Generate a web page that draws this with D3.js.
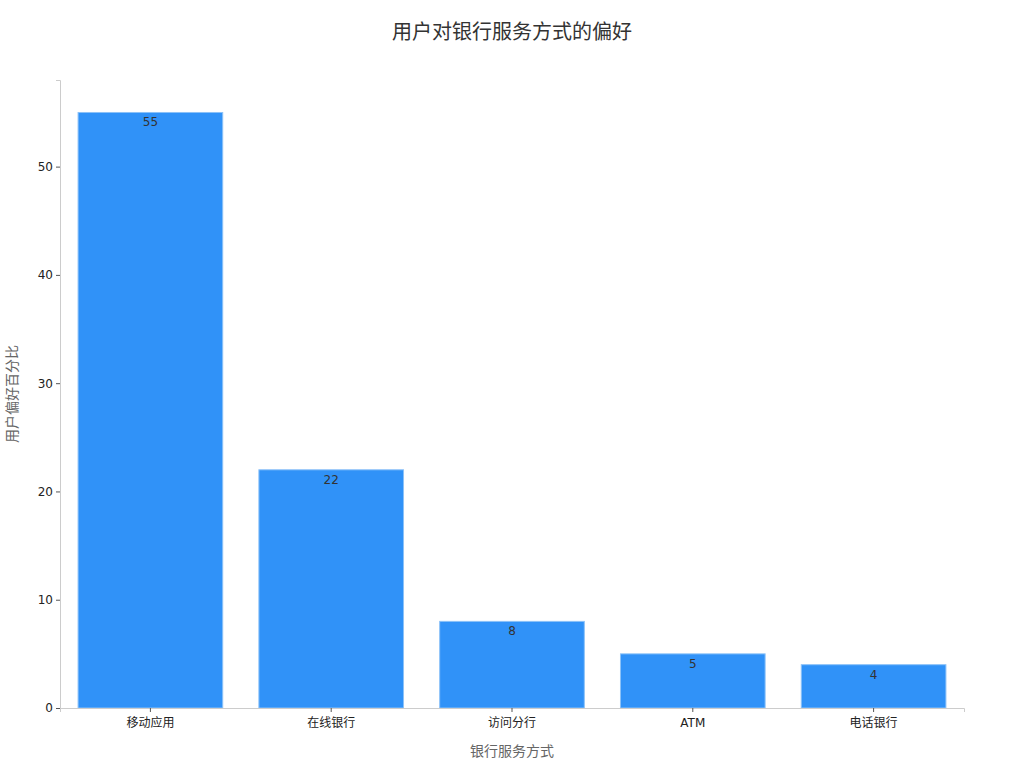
<!DOCTYPE html>
<html>
<head>
<meta charset="utf-8">
<script src="https://cdn.jsdelivr.net/npm/d3@7"></script>
<style>
  body { margin: 0; background: #fff; }
  svg text { font-family: "DejaVu Sans", "Noto Sans CJK SC", sans-serif; }
</style>
</head>
<body>
<svg id="chart" width="1024" height="768"></svg>
<script>
// data
const categories = ["移动应用", "在线银行", "访问分行", "ATM", "电话银行"];
const values = [55, 22, 8, 5, 4];
const yTicks = [0, 10, 20, 30, 40, 50];

const margin = { top: 80, right: 60, bottom: 60, left: 60 };
const width = 1024, height = 768;

const svg = d3.select("#chart");

const x = d3.scaleBand()
  .domain(categories)
  .range([margin.left, width - margin.right])
  .paddingInner(0.2)
  .paddingOuter(0.1);

const y = d3.scaleLinear()
  .domain([0, 58])
  .range([height - margin.bottom, margin.top]);

// bars
svg.append("g").selectAll("rect")
  .data(values)
  .join("rect")
  .attr("x", (d, i) => x(categories[i]))
  .attr("y", d => y(d))
  .attr("width", x.bandwidth())
  .attr("height", d => y(0) - y(d))
  .attr("fill", "#3092f8")
  .attr("stroke", "#8cc2f8")
  .attr("stroke-width", 1);

// value labels
svg.append("g").selectAll("text")
  .data(values)
  .join("text")
  .attr("x", (d, i) => x(categories[i]) + x.bandwidth() / 2)
  .attr("y", d => y(d) + 14)
  .attr("text-anchor", "middle")
  .attr("font-size", 12)
  .attr("fill", "#333")
  .text(d => d);

// x axis
const xAxis = svg.append("g")
  .attr("transform", `translate(0,${height - margin.bottom})`)
  .call(d3.axisBottom(x).tickSize(4).tickPadding(6));
xAxis.select(".domain").attr("stroke", "#ccc");
xAxis.selectAll(".tick line").attr("stroke", "#555");
xAxis.selectAll(".tick text").attr("font-size", 12).attr("fill", "#222");

// y axis
const yAxis = svg.append("g")
  .attr("transform", `translate(${margin.left},0)`)
  .call(d3.axisLeft(y).tickValues(yTicks).tickSize(4).tickPadding(3));
yAxis.select(".domain").attr("stroke", "#ccc");
yAxis.selectAll(".tick line").attr("stroke", "#555");
yAxis.selectAll(".tick text").attr("font-size", 12).attr("fill", "#222");

// titles
svg.append("text")
  .attr("x", width / 2)
  .attr("y", 39)
  .attr("text-anchor", "middle")
  .attr("font-size", 20)
  .attr("fill", "#333")
  .text("用户对银行服务方式的偏好");

svg.append("text")
  .attr("x", (margin.left + width - margin.right) / 2)
  .attr("y", 756)
  .attr("text-anchor", "middle")
  .attr("font-size", 14)
  .attr("fill", "#666")
  .text("银行服务方式");

svg.append("text")
  .attr("transform", `translate(17,${(margin.top + height - margin.bottom) / 2}) rotate(-90)`)
  .attr("text-anchor", "middle")
  .attr("font-size", 14)
  .attr("fill", "#666")
  .text("用户偏好百分比");
</script>
</body>
</html>
